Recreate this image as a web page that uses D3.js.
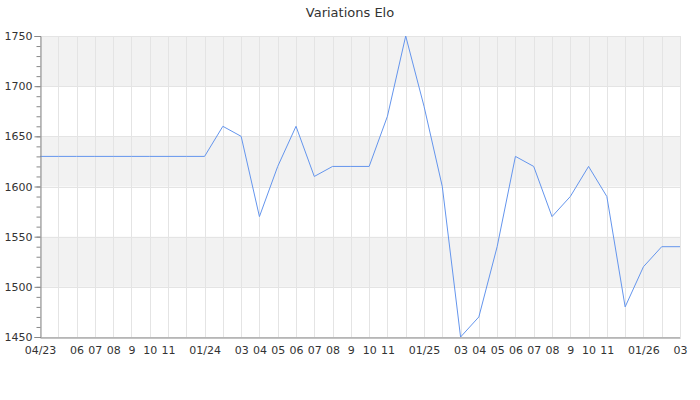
<!DOCTYPE html>
<html><head><meta charset="utf-8">
<script src="https://cdn.jsdelivr.net/npm/d3@7"></script>
<style>body{margin:0;background:#fff;} text{font-family:"DejaVu Sans",sans-serif;}</style>
</head><body><svg id="c" width="700" height="400"></svg>
<script>
const months = ["2023-04","2023-05","2023-06","2023-07","2023-08","2023-09","2023-10","2023-11","2023-12",
"2024-01","2024-02","2024-03","2024-04","2024-05","2024-06","2024-07","2024-08","2024-09","2024-10","2024-11","2024-12",
"2025-01","2025-02","2025-03","2025-04","2025-05","2025-06","2025-07","2025-08","2025-09","2025-10","2025-11","2025-12",
"2026-01","2026-02","2026-03"];
const elo = [1630,1630,1630,1630,1630,1630,1630,1630,1630,
1630,1660,1650,1570,1620,1660,1610,1620,1620,1620,1670,1750,
1680,1600,1450,1470,1540,1630,1620,1570,1590,1620,1590,1480,
1520,1540,1540];
const tickLabels = ["04/23","","06","07","08","9","10","11","",
"01/24","","03","04","05","06","07","08","9","10","11","",
"01/25","","03","04","05","06","07","08","9","10","11","",
"01/26","","03"];
const yTicks = [1450,1500,1550,1600,1650,1700,1750];
const title = "Variations Elo";

const svg = d3.select("#c");
const m = {l:40, r:20, t:36, b:63};
const W = 700, H = 400;
const x = d3.scalePoint().domain(months).range([m.l, W - m.r]);
const y = d3.scaleLinear().domain([1450,1750]).range([H - m.b, m.t]);

// bands
const bands = [[1700,1750],[1600,1650],[1500,1550]];
svg.selectAll("rect.band").data(bands).enter().append("rect")
  .attr("x", m.l).attr("width", W - m.r - m.l)
  .attr("y", d => y(d[1])).attr("height", d => y(d[0]) - y(d[1]))
  .attr("fill", "#f2f2f2");

// horizontal grid
svg.selectAll("line.hg").data(yTicks).enter().append("line")
  .attr("x1", m.l).attr("x2", W - m.r)
  .attr("y1", d => Math.round(y(d)) + 0.5).attr("y2", d => Math.round(y(d)) + 0.5)
  .attr("stroke", "#e4e4e4");

// vertical grid
svg.selectAll("line.vg").data(months).enter().append("line")
  .attr("x1", d => Math.round(x(d)) + 0.5).attr("x2", d => Math.round(x(d)) + 0.5)
  .attr("y1", m.t).attr("y2", H - m.b)
  .attr("stroke", "#e4e4e4");

// line
const line = d3.line().x((d,i) => x(months[i])).y(d => y(d));
svg.append("path").datum(elo).attr("d", line)
  .attr("fill", "none").attr("stroke", "#6495ed").attr("stroke-width", 1);

// y axis
const yMinor = d3.range(1450, 1751, 10);
const yAxisG = svg.append("g").attr("transform", `translate(${m.l + 0.5},0)`);
yAxisG.call(d3.axisLeft(y).tickValues(yMinor).tickSize(4).tickFormat(""));
yAxisG.select(".domain").remove();
yAxisG.selectAll("line").attr("stroke", "#888");
const yMajor = svg.append("g").attr("transform", `translate(${m.l + 0.5},0)`)
  .call(d3.axisLeft(y).tickValues(yTicks).tickSize(6).tickPadding(2).tickFormat(d3.format("d")));
yMajor.select(".domain").attr("stroke", "#888");
yMajor.selectAll("line").attr("stroke", "#888");
yMajor.selectAll("text").attr("font-size", 11).attr("fill", "#333").attr("font-family", "DejaVu Sans");

// x axis
const xAxis = svg.append("g").attr("transform", `translate(0,${H - m.b + 0.5})`)
  .call(d3.axisBottom(x).tickSize(0).tickPadding(9).tickFormat((d,i) => tickLabels[i]));
xAxis.select(".domain").attr("stroke", "#888");
xAxis.selectAll("text").attr("font-size", 11).attr("fill", "#333").attr("font-family", "DejaVu Sans");

// title
svg.append("text").attr("x", 350).attr("y", 17).attr("text-anchor", "middle")
  .attr("font-size", 13).attr("fill", "#333").text(title);
</script></body></html>
